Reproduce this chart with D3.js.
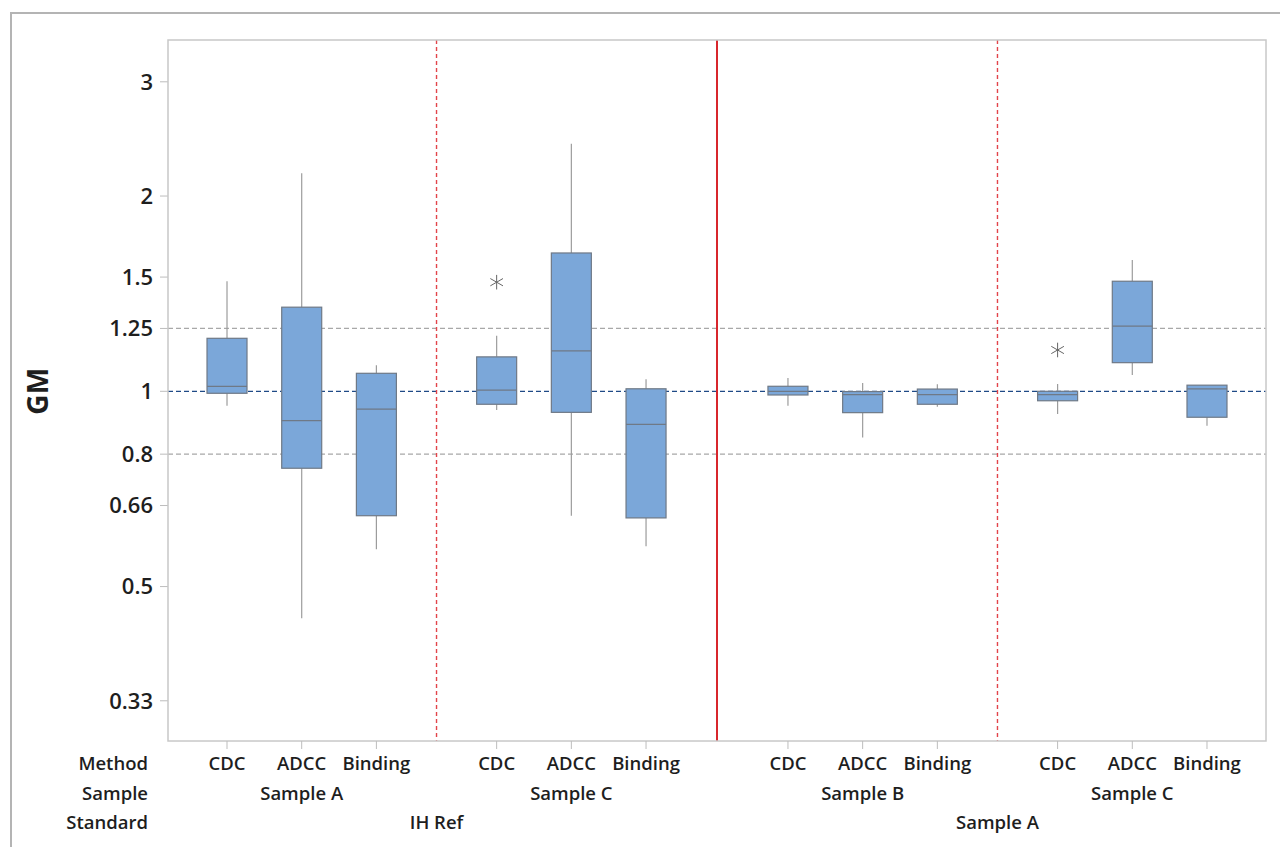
<!DOCTYPE html>
<html>
<head>
<meta charset="utf-8">
<script src="https://cdn.jsdelivr.net/npm/d3@7"></script>
<style>
  body { margin: 0; background: #fff; }
  text { font-family: "Open Sans", "Noto Sans", sans-serif; fill: #1e1e1e; }
</style>
</head>
<body>
<script>
// groups, left to right
const standards = ["IH Ref", "IH Ref", "IH Ref", "IH Ref", "IH Ref", "IH Ref",
  "Sample A", "Sample A", "Sample A", "Sample A", "Sample A", "Sample A"];
const samples = ["Sample A", "Sample A", "Sample A", "Sample C", "Sample C", "Sample C",
  "Sample B", "Sample B", "Sample B", "Sample C", "Sample C", "Sample C"];
const methods = ["CDC", "ADCC", "Binding", "CDC", "ADCC", "Binding",
  "CDC", "ADCC", "Binding", "CDC", "ADCC", "Binding"];

// box statistics
const whiskerLow = [0.950, 0.447, 0.571, 0.936, 0.643, 0.577, 0.950, 0.849, 0.947, 0.923, 1.060, 0.885];
const q1 = [0.993, 0.761, 0.643, 0.955, 0.928, 0.638, 0.987, 0.927, 0.955, 0.967, 1.107, 0.912];
const median = [1.018, 0.901, 0.939, 1.004, 1.154, 0.889, 1.000, 0.988, 0.988, 0.988, 1.260, 1.009];
const q3 = [1.207, 1.348, 1.066, 1.130, 1.634, 1.009, 1.018, 0.999, 1.008, 1.000, 1.478, 1.022];
const whiskerHigh = [1.478, 2.169, 1.097, 1.218, 2.407, 1.044, 1.048, 1.030, 1.025, 1.026, 1.594, 1.022];
const outlierIndex = [3, 9];
const outlierValue = [1.473, 1.158];

const yTicks = [1 / 3, 0.5, 2 / 3, 0.8, 1, 1.25, 1.5, 2, 3];
const yTickLabels = ["0.33", "0.5", "0.66", "0.8", "1", "1.25", "1.5", "2", "3"];
const refGrey = [0.8, 1.25];
const refMain = 1;

const W = 1280, H = 847;
const plot = { left: 168, right: 1266, top: 40, bottom: 741 };

const svg = d3.select("body").append("svg").attr("width", W).attr("height", H);

// outer frame
svg.append("rect").attr("x", 11).attr("y", 13).attr("width", W).attr("height", H)
  .attr("fill", "none").attr("stroke", "#b4b4b4").attr("stroke-width", 2);

// slot positions: bigger gaps between samples and between standards
let slots = [];
let s = 0;
methods.forEach((m, i) => {
  if (i > 0) {
    if (standards[i] !== standards[i - 1]) s += 1.9;
    else if (samples[i] !== samples[i - 1]) s += 1.61;
    else s += 1;
  }
  slots.push(s);
});
const pad = 0.79;

const x = d3.scaleLinear().domain([-pad, slots[slots.length - 1] + pad]).range([plot.left, plot.right]);
const y = d3.scaleLog().domain([0.289, 3.48]).range([plot.bottom, plot.top]);

// y axis ticks and labels
const yg = svg.append("g");
yg.selectAll("line").data(yTicks).enter().append("line")
  .attr("x1", plot.left - 8).attr("x2", plot.left)
  .attr("y1", d => y(d)).attr("y2", d => y(d))
  .attr("stroke", "#bdbdbd").attr("stroke-width", 1);
yg.selectAll("text").data(yTicks).enter().append("text")
  .attr("x", plot.left - 15).attr("y", d => y(d)).attr("dy", "0.36em")
  .attr("text-anchor", "end").style("font-size", "22px").style("font-weight", 600)
  .text((d, i) => yTickLabels[i]);

svg.append("text")
  .attr("transform", `translate(48,${y(1)}) rotate(-90)`)
  .attr("text-anchor", "middle")
  .style("font-size", "28px").style("font-weight", 700)
  .text("GM");

// reference lines
svg.selectAll(".ref").data(refGrey).enter().append("line")
  .attr("class", "ref")
  .attr("x1", plot.left).attr("x2", plot.right)
  .attr("y1", d => y(d)).attr("y2", d => y(d))
  .attr("stroke", "#a8a8a8").attr("stroke-width", 1.2).attr("stroke-dasharray", "5,3");
svg.append("line")
  .attr("x1", plot.left).attr("x2", plot.right)
  .attr("y1", y(refMain)).attr("y2", y(refMain))
  .attr("stroke", "#1f4a86").attr("stroke-width", 1.2).attr("stroke-dasharray", "5,3");

// separators between groups
const seps = [];
for (let i = 1; i < methods.length; i++) {
  if (standards[i] !== standards[i - 1]) seps.push({ pos: (slots[i] + slots[i - 1]) / 2, solid: true });
  else if (samples[i] !== samples[i - 1]) seps.push({ pos: (slots[i] + slots[i - 1]) / 2, solid: false });
}
svg.selectAll(".sep").data(seps).enter().append("line")
  .attr("class", "sep")
  .attr("x1", d => x(d.pos)).attr("x2", d => x(d.pos))
  .attr("y1", plot.top).attr("y2", plot.bottom)
  .attr("stroke", d => d.solid ? "#d8262c" : "#e2444a")
  .attr("stroke-width", d => d.solid ? 2 : 1.4)
  .attr("stroke-dasharray", d => d.solid ? null : "4,3");

// boxes
const boxW = 40;
const boxes = svg.selectAll(".box").data(methods).enter().append("g")
  .attr("class", "box")
  .attr("transform", (d, i) => `translate(${x(slots[i])},0)`);

boxes.append("line")
  .attr("y1", (d, i) => y(whiskerLow[i])).attr("y2", (d, i) => y(q1[i]))
  .attr("stroke", "#9c9c9c").attr("stroke-width", 1.2);
boxes.append("line")
  .attr("y1", (d, i) => y(q3[i])).attr("y2", (d, i) => y(whiskerHigh[i]))
  .attr("stroke", "#9c9c9c").attr("stroke-width", 1.2);
boxes.append("rect")
  .attr("x", -boxW / 2).attr("width", boxW)
  .attr("y", (d, i) => y(q3[i]))
  .attr("height", (d, i) => y(q1[i]) - y(q3[i]))
  .attr("fill", "#7ba7d9").attr("stroke", "#6f7986").attr("stroke-width", 1.2);
boxes.append("line")
  .attr("x1", -boxW / 2).attr("x2", boxW / 2)
  .attr("y1", (d, i) => y(median[i])).attr("y2", (d, i) => y(median[i]))
  .attr("stroke", "#6f7986").attr("stroke-width", 1.2);

// outliers
svg.selectAll(".out").data(outlierIndex).enter().append("path")
  .attr("class", "out")
  .attr("transform", (d, i) => `translate(${x(slots[d])},${y(outlierValue[i])})`)
  .attr("d", d3.symbol().type(d3.symbolAsterisk).size(150))
  .attr("fill", "none").attr("stroke", "#666").attr("stroke-width", 1);

// plot frame
svg.append("rect")
  .attr("x", plot.left).attr("y", plot.top)
  .attr("width", plot.right - plot.left).attr("height", plot.bottom - plot.top)
  .attr("fill", "none").attr("stroke", "#c8c8c8").attr("stroke-width", 1.5);

// x ticks
svg.selectAll(".xt").data(slots).enter().append("line")
  .attr("class", "xt")
  .attr("x1", d => x(d)).attr("x2", d => x(d))
  .attr("y1", plot.bottom).attr("y2", plot.bottom + 8)
  .attr("stroke", "#bdbdbd").attr("stroke-width", 1);

// category label rows
const rowY = [770, 800, 829];
const rowNames = ["Method", "Sample", "Standard"];
const labelSize = "18.5px";
svg.selectAll(".rown").data(rowNames).enter().append("text")
  .attr("class", "rown")
  .attr("x", 148).attr("y", (d, i) => rowY[i])
  .attr("text-anchor", "end").style("font-size", labelSize).style("font-weight", 600)
  .text(d => d);

svg.selectAll(".meth").data(methods).enter().append("text")
  .attr("class", "meth")
  .attr("x", (d, i) => x(slots[i])).attr("y", rowY[0])
  .attr("text-anchor", "middle").style("font-size", labelSize).style("font-weight", 600)
  .text(d => d);

// sample groups and standard groups centered on their members
function groupCenters(keyFn, labelFn) {
  const out = [];
  methods.forEach((m, i) => {
    const k = keyFn(i);
    const last = out[out.length - 1];
    if (last && last.key === k) last.items.push(slots[i]);
    else out.push({ key: k, label: labelFn(i), items: [slots[i]] });
  });
  return out.map(g => ({ label: g.label, pos: (d3.min(g.items) + d3.max(g.items)) / 2 }));
}

svg.selectAll(".samp")
  .data(groupCenters(i => standards[i] + "|" + samples[i], i => samples[i]))
  .enter().append("text")
  .attr("class", "samp")
  .attr("x", d => x(d.pos)).attr("y", rowY[1])
  .attr("text-anchor", "middle").style("font-size", labelSize).style("font-weight", 600)
  .text(d => d.label);

svg.selectAll(".std")
  .data(groupCenters(i => standards[i], i => standards[i]))
  .enter().append("text")
  .attr("class", "std")
  .attr("x", d => x(d.pos)).attr("y", rowY[2])
  .attr("text-anchor", "middle").style("font-size", labelSize).style("font-weight", 600)
  .text(d => d.label);
</script>
</body>
</html>
